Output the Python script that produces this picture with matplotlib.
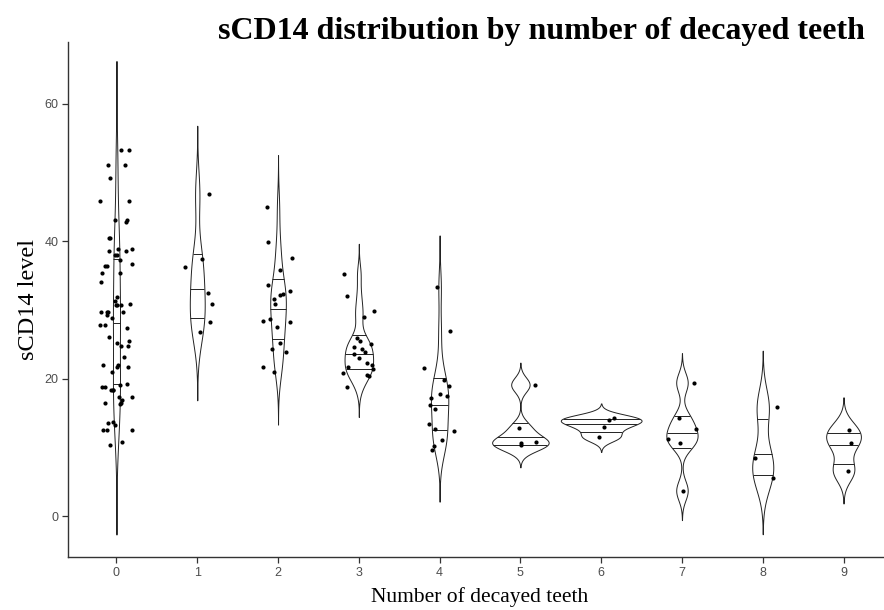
#!/usr/bin/env python3
"""
sCD14 level by number of decayed teeth: violins (trim off, area-scaled)
with 25/50/75% quantile lines and jittered points, ggplot-like style.
"""

import numpy as np
import matplotlib.pyplot as plt

# sCD14 values, one list per number of decayed teeth
teeth_0 = [53.2, 53.2, 51.1, 51.1, 49.1, 45.8, 45.8, 43.1, 42.7, 43.0, 40.4, 40.4,
           38.6, 38.0, 38.0, 38.8, 38.8, 38.6, 37.3, 36.7, 36.3, 36.3, 35.3, 35.3,
           34.0, 31.8, 31.3, 30.9, 30.7, 30.7, 30.7, 29.7, 29.7, 29.7, 29.7, 29.2,
           28.8, 27.8, 27.4, 27.8, 26.1, 25.5, 25.1, 24.7, 24.7, 23.2, 22.0, 22.0,
           21.7, 21.7, 21.0, 19.1, 18.8, 18.4, 18.3, 18.8, 19.2, 18.3, 17.3, 17.3,
           16.3, 16.5, 16.9, 16.5, 13.2, 13.5, 13.7, 12.5, 12.5, 12.5, 10.8, 10.3]
teeth_1 = [46.8, 37.4, 36.2, 32.4, 30.8, 28.2, 26.8]
teeth_2 = [44.9, 39.9, 37.6, 35.8, 33.6, 32.7, 32.3, 32.1, 31.6, 30.8,
           28.6, 28.4, 28.2, 27.5, 25.2, 24.3, 23.9, 21.7, 20.9]
teeth_3 = [35.2, 32.0, 29.8, 28.9, 25.9, 25.5, 25.0, 24.6, 24.3, 23.8,
           23.5, 23.0, 22.3, 22.0, 21.7, 21.4, 20.8, 20.5, 20.3, 18.8]
teeth_4 = [33.3, 26.9, 21.6, 19.8, 18.9, 17.8, 17.5, 17.2, 16.2, 15.5,
           13.4, 12.7, 12.4, 11.1, 10.2, 9.6]
teeth_5 = [19.1, 12.8, 10.8, 10.6, 10.3]
teeth_6 = [14.2, 14.0, 13.0, 11.5]
teeth_7 = [19.4, 14.2, 12.6, 11.2, 10.6, 3.7]
teeth_8 = [15.8, 8.4, 5.6]
teeth_9 = [12.5, 10.6, 6.6]

categories = ['0', '1', '2', '3', '4', '5', '6', '7', '8', '9']
groups = [teeth_0, teeth_1, teeth_2, teeth_3, teeth_4,
          teeth_5, teeth_6, teeth_7, teeth_8, teeth_9]
y_ticks = [0, 20, 40, 60]


def r_density(vals, n=512, cut=3):
    """Gaussian KDE with R's bw.nrd0 and grid extended cut*bw past the data."""
    x = np.asarray(vals, dtype=float)
    sd = x.std(ddof=1)
    q1, q3 = np.percentile(x, [25, 75])
    lo = min(sd, (q3 - q1) / 1.34)
    if lo <= 0:
        lo = sd
    bw = 0.9 * lo * len(x) ** -0.2
    grid = np.linspace(x.min() - cut * bw, x.max() + cut * bw, n)
    z = (grid[:, None] - x[None, :]) / bw
    dens = np.exp(-0.5 * z ** 2).sum(axis=1) / (len(x) * bw * np.sqrt(2 * np.pi))
    return grid, dens


densities = [r_density(g) for g in groups]
max_dens = max(d.max() for _, d in densities)
violin_width = 1.0

fig = plt.figure(figsize=(8.84, 6.10), dpi=100)
ax = fig.add_axes([68 / 884, 53 / 610, 824 / 884, 515 / 610])

rng = np.random.default_rng(7)
for i, (vals, (grid, dens)) in enumerate(zip(groups, densities)):
    half = dens / max_dens * violin_width / 2
    ax.fill_betweenx(grid, i - half, i + half, facecolor='white',
                     edgecolor='#222222', linewidth=0.7, zorder=2)

    # quantile lines from the density estimate, like draw_quantiles
    cdf = np.cumsum(dens) / dens.sum()
    yq = np.interp([0.25, 0.5, 0.75], cdf, grid)
    wq = np.interp(yq, grid, half)
    ax.hlines(yq, i - wq, i + wq, color='#222222', linewidth=0.7, zorder=2)

    xj = i + rng.uniform(-0.2, 0.2, len(vals))
    ax.scatter(xj, vals, s=9, color='black', linewidths=0, zorder=3)

ax.set_xlim(-0.6, 9.6)
ax.set_ylim(-5.96, 68.95)
ax.set_xticks(range(len(categories)))
ax.set_xticklabels(categories)
ax.set_yticks(y_ticks)

for side in ['top', 'right']:
    ax.spines[side].set_visible(False)
for side in ['left', 'bottom']:
    ax.spines[side].set_color('#333333')
    ax.spines[side].set_linewidth(1.0)
ax.tick_params(axis='both', colors='#333333', length=4, width=0.9,
               labelsize=9, labelcolor='#4d4d4d', pad=3)
for lbl in ax.get_xticklabels() + ax.get_yticklabels():
    lbl.set_family('Liberation Sans')

ax.set_xlabel('Number of decayed teeth', family='Liberation Serif',
              fontsize=15.5, labelpad=6)
ax.set_ylabel('sCD14 level', family='Liberation Serif', fontsize=17.5, labelpad=4)
fig.text(541 / 884, 1 - 31 / 610, 'sCD14 distribution by number of decayed teeth',
         family='Liberation Serif', fontweight='bold', fontsize=23,
         ha='center', va='center')

plt.savefig('out.png', dpi=100)
